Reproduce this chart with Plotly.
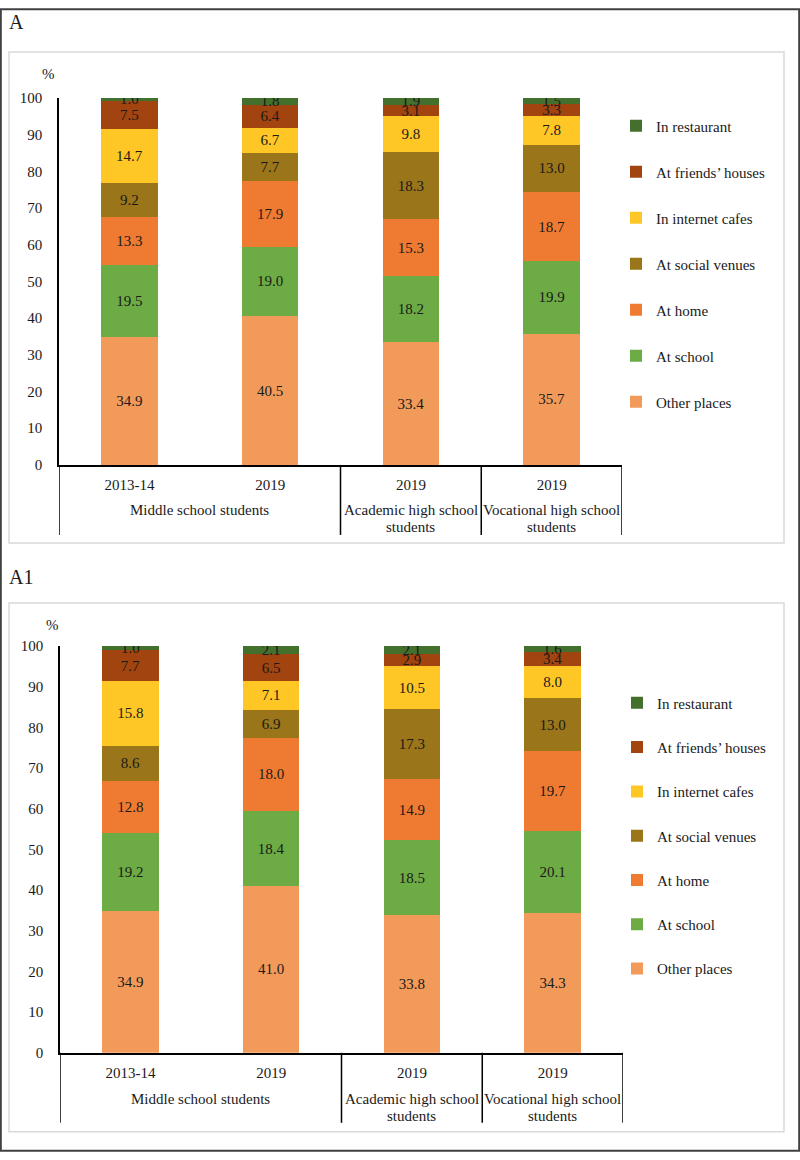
import plotly.graph_objects as go

# ---------------- data ----------------
series = ["Other places", "At school", "At home", "At social venues",
          "In internet cafes", "At friends\u2019 houses", "In restaurant"]
colors = ["#F29A5A", "#6DAC44", "#EF7A32", "#9A7519", "#FFC726", "#A1440F", "#44702D"]

groups = ["Middle school students", "Middle school students",
          "Academic high school<br>students", "Vocational high school<br>students"]
years = ["2013-14", "2019", "2019", "2019"]

# Panel A
a_other = [34.9, 40.5, 33.4, 35.7]
a_school = [19.5, 19.0, 18.2, 19.9]
a_home = [13.3, 17.9, 15.3, 18.7]
a_social = [9.2, 7.7, 18.3, 13.0]
a_cafes = [14.7, 6.7, 9.8, 7.8]
a_friends = [7.5, 6.4, 3.1, 3.3]
a_restaurant = [1.0, 1.8, 1.9, 1.5]

# Panel A1
a1_other = [34.9, 41.0, 33.8, 34.3]
a1_school = [19.2, 18.4, 18.5, 20.1]
a1_home = [12.8, 18.0, 14.9, 19.7]
a1_social = [8.6, 6.9, 17.3, 13.0]
a1_cafes = [15.8, 7.1, 10.5, 8.0]
a1_friends = [7.7, 6.5, 2.9, 3.4]
a1_restaurant = [1.0, 2.1, 2.1, 1.6]

panel_a = [a_other, a_school, a_home, a_social, a_cafes, a_friends, a_restaurant]
panel_a1 = [a1_other, a1_school, a1_home, a1_social, a1_cafes, a1_friends, a1_restaurant]

# ---------------- figure ----------------
W, H = 800, 1160
FONT = "Liberation Serif, Times New Roman, serif"
TXT = "#1a1a1a"
FS = 15
K = 1176 / 1160   # vertical compensation for how the page is captured
TOP = 8


def px_x(v):
    return v / W


def px_y(v):
    """paper y for a target pixel row in the captured picture"""
    return 1 - ((v - TOP) * K) / H


keys = [g + "|" + y for g, y in zip(groups, years)]

fig = go.Figure()

for panel, xa, ya, lg in [(panel_a, "x", "y", "legend"), (panel_a1, "x2", "y2", "legend2")]:
    for i, (name, vals, col) in enumerate(zip(series, panel, colors)):
        fig.add_trace(go.Bar(
            x=keys, y=vals, name=name,
            marker=dict(color=col, line=dict(width=0)),
            width=0.4,
            texttemplate="%{y:.1f}", textposition="inside",
            insidetextanchor="middle", constraintext="none", textangle=0,
            textfont=dict(family=FONT, size=FS, color=TXT),
            xaxis=xa, yaxis=ya, legend=lg, legendgroup=lg + name,
            legendrank=100 - i,
            hoverinfo="skip",
        ))

axis_common_x = dict(
    type="category", categoryorder="array", categoryarray=keys,
    tickmode="array", tickvals=keys, ticktext=years,
    showline=True, linecolor="black", linewidth=1.5,
    ticks="", showgrid=False, ticklabelstandoff=5,
    tickfont=dict(family=FONT, size=FS, color=TXT),
    range=[-0.5, len(keys) - 0.5],
)
axis_common_y = dict(
    range=[0, 100], tick0=0, dtick=10, showline=True, linecolor="black", linewidth=1.5,
    ticks="", showgrid=False, zeroline=False, ticklabelstandoff=12,
    tickfont=dict(family=FONT, size=FS, color=TXT),
)

legend_common = dict(
    font=dict(family=FONT, size=FS, color=TXT),
    traceorder="grouped", bgcolor="rgba(0,0,0,0)",
    xanchor="left", yanchor="top", itemclick=False,
)

fig.update_layout(
    width=W, height=H, margin=dict(l=0, r=0, t=0, b=0),
    paper_bgcolor="white", plot_bgcolor="white", barmode="stack",
    font=dict(family=FONT, size=FS, color=TXT),
    xaxis=dict(domain=[px_x(59), px_x(622)], anchor="y", **axis_common_x),
    yaxis=dict(domain=[px_y(465), px_y(98)], anchor="x", **axis_common_y),
    xaxis2=dict(domain=[px_x(60), px_x(623)], anchor="y2", **axis_common_x),
    yaxis2=dict(domain=[px_y(1053), px_y(646)], anchor="x2", **axis_common_y),
    legend=dict(x=px_x(616), y=px_y(109.5), tracegroupgap=23.5, **legend_common),
    legend2=dict(x=px_x(617), y=px_y(686.7), tracegroupgap=21.8, **legend_common),
    showlegend=True,
)

# group labels and dividers below each x axis (computed from the group list)
unique_groups = []
for g in groups:
    if g not in unique_groups:
        unique_groups.append(g)

LINE_GAP = 17
for xref, axis_px, lab_center, div_bottom in [("x", 465, 510, 535), ("x2", 1053, 1099, 1123)]:
    bounds = set()
    for g in unique_groups:
        idx = [i for i, gg in enumerate(groups) if gg == g]
        center = (idx[0] + idx[-1]) / 2
        bounds.add(idx[0] - 0.5)
        bounds.add(idx[-1] + 0.5)
        for j, line in enumerate(g.split("<br>")):
            fig.add_annotation(text=line, xref=xref, yref="paper", x=center,
                               y=px_y(lab_center + LINE_GAP * j),
                               xanchor="center", yanchor="middle", showarrow=False,
                               font=dict(family=FONT, size=FS, color=TXT))
    for b in sorted(bounds):
        fig.add_shape(type="line", xref=xref, yref="paper", x0=b, x1=b,
                      y0=px_y(div_bottom), y1=px_y(axis_px),
                      line=dict(color="black", width=1.5))

# borders
fig.add_shape(type="rect", xref="paper", yref="paper", x0=0.001, x1=0.999, y0=0.001, y1=0.999,
              line=dict(color="#404040", width=2), layer="below")
fig.add_shape(type="rect", xref="paper", yref="paper", x0=px_x(9), x1=px_x(784), y0=px_y(543), y1=px_y(52),
              line=dict(color="#D9D9D9", width=1.5), layer="below")
fig.add_shape(type="rect", xref="paper", yref="paper", x0=px_x(9), x1=px_x(784), y0=px_y(1132), y1=px_y(603),
              line=dict(color="#D9D9D9", width=1.5), layer="below")

# panel titles and unit labels
for txt, x, y in [("A", 7, 22), ("A1", 7, 577)]:
    fig.add_annotation(text=txt, xref="paper", yref="paper", x=px_x(x), y=px_y(y),
                       xanchor="left", yanchor="middle", showarrow=False,
                       font=dict(family=FONT, size=20, color=TXT))
for x, y in [(48, 74), (52, 625)]:
    fig.add_annotation(text="%", xref="paper", yref="paper", x=px_x(x), y=px_y(y),
                       xanchor="center", yanchor="middle", showarrow=False,
                       font=dict(family=FONT, size=FS, color=TXT))

css_fix = (
    "var s=document.createElement('style');"
    "s.innerHTML='html,body{margin:0 !important;padding:0 !important;overflow:hidden;"
    "width:800px;height:1160px;}';"
    "document.head.appendChild(s);window.scrollTo(0,0);"
)
fig.write_html("out.html", config={"displayModeBar": False}, post_script=css_fix)
